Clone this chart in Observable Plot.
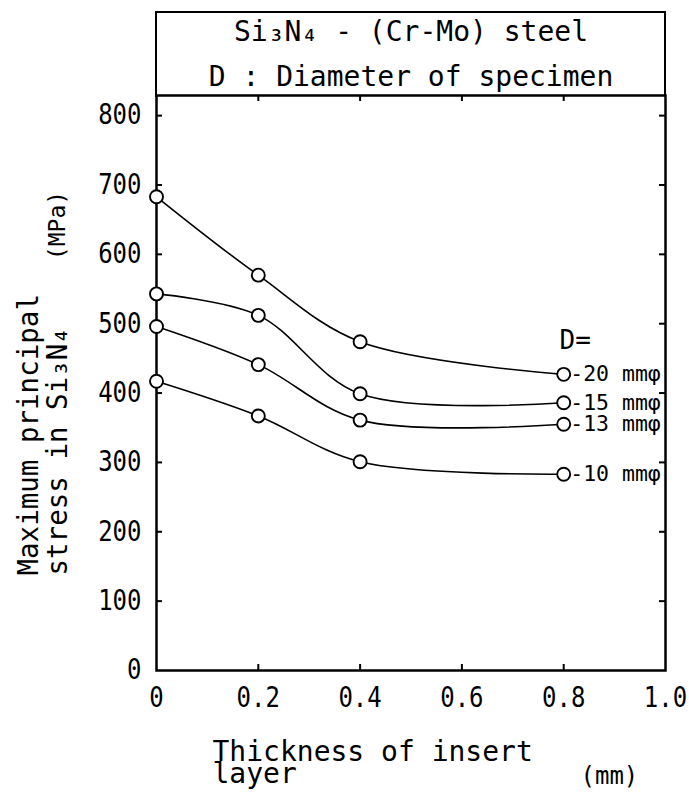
<!DOCTYPE html>
<html>
<head>
<meta charset="utf-8">
<script src="https://cdn.jsdelivr.net/npm/d3@7"></script>
<script src="https://cdn.jsdelivr.net/npm/@observablehq/plot@0.6"></script>
<style>
  html, body { margin: 0; padding: 0; background: white; }
  #wrap { position: relative; width: 689px; height: 798px; overflow: hidden; }
  #titlebox { position: absolute; left: 155px; top: 11px; width: 511px; height: 86px;
    box-sizing: border-box; border: 2.5px solid black; border-bottom: none; }
</style>
</head>
<body>
<div id="wrap"><div id="chart"></div><div id="titlebox"></div></div>
<script>
// ---- data ----
const thickness = [0, 0.2, 0.4, 0.8];           // mm
const diameters = ["20", "15", "13", "10"];     // mm phi
const stress20 = [683, 570, 474, 427];          // MPa
const stress15 = [543, 512, 399, 386];
const stress13 = [496, 441, 361, 355];
const stress10 = [417, 367, 301, 283];
const xTicks = [0, 0.2, 0.4, 0.6, 0.8, 1.0];
const yTicks = [0, 100, 200, 300, 400, 500, 600, 700, 800];
const titleLines = ["Si\u2083N\u2084 - (Cr-Mo) steel", "D : Diameter of specimen"];

const seriesValues = [stress20, stress15, stress13, stress10];
const points = [];
diameters.forEach((d, k) => thickness.forEach((t, i) => points.push({D: d, t, s: seriesValues[k][i]})));
const lastPoints = diameters.map((d, k) => ({D: d, t: thickness[thickness.length - 1], s: seriesValues[k][thickness.length - 1]}));

// ---- layout ----
const W = 689, H = 798, mL = 156, mR = 24, mT = 95, mB = 128;
const pw = W - mL - mR, ph = H - mT - mB, tick = 6;
const font = "'DejaVu Sans Mono', monospace";

const chart = Plot.plot({
  width: W, height: H,
  marginLeft: mL, marginRight: mR, marginTop: mT, marginBottom: mB,
  style: {fontFamily: font, fontSize: "24px", background: "white", color: "black", overflow: "visible"},
  x: {domain: [0, 1], label: null},
  y: {domain: [0, 829], label: null},
  marks: [
    Plot.frame({stroke: "black", strokeWidth: 2.5}),
    // inward ticks on all four sides
    Plot.tickY(yTicks.slice(1), {y: d => d, insetRight: pw - tick, strokeWidth: 2}),
    Plot.tickY(yTicks.slice(1), {y: d => d, insetLeft: pw - tick, strokeWidth: 2}),
    Plot.tickX(xTicks.slice(1, -1), {x: d => d, insetTop: ph - tick, strokeWidth: 2}),
    Plot.tickX(xTicks.slice(1, -1), {x: d => d, insetBottom: ph - tick, strokeWidth: 2}),
    Plot.axisY({ticks: yTicks, tickSize: 0, tickPadding: 15, fontSize: 24, label: null, tickFormat: d => String(d)}),
    Plot.axisX({ticks: xTicks, tickSize: 0, tickPadding: 17, fontSize: 24, label: null,
      tickFormat: d => d === 0 ? "0" : d.toFixed(1)}),
    Plot.line(points, {x: "t", y: "s", z: "D", curve: "catmull-rom", stroke: "black", strokeWidth: 1.6}),
    Plot.dot(points, {x: "t", y: "s", r: 6.5, fill: "white", stroke: "black", strokeWidth: 1.9}),
    Plot.text(lastPoints, {x: "t", y: "s", text: d => "-" + d.D + " mm\u03c6", dx: 6.5,
      textAnchor: "start", lineAnchor: "middle", fontSize: 21.5, ariaLabel: "series-label"}),
    Plot.text(["D="], {frameAnchor: "top-right", dx: -106, dy: 245, textAnchor: "start",
      lineAnchor: "middle", fontSize: 26, ariaLabel: "d-label"}),
    // titles
    Plot.text([titleLines[0]], {frameAnchor: "top", dy: -55, lineAnchor: "bottom", fontSize: 28, ariaLabel: "title"}),
    Plot.text([titleLines[1]], {frameAnchor: "top", dy: -10, lineAnchor: "bottom", fontSize: 28, ariaLabel: "title"}),
    // y axis label
    Plot.text(["Maximum principal"], {frameAnchor: "bottom-left", dx: 37 - mL, dy: -95, rotate: -90,
      textAnchor: "start", lineAnchor: "bottom", fontSize: 27.5, ariaLabel: "ylabel"}),
    Plot.text(["stress in Si\u2083N\u2084"], {frameAnchor: "bottom-left", dx: 66 - mL, dy: -95, rotate: -90,
      textAnchor: "start", lineAnchor: "bottom", fontSize: 27.5, ariaLabel: "ylabel"}),
    Plot.text(["(MPa)"], {frameAnchor: "top-left", dx: 64 - mL, dy: 130, rotate: -90,
      textAnchor: "middle", lineAnchor: "bottom", fontSize: 23, ariaLabel: "yunit"}),
    // x axis label
    Plot.text(["Thickness of insert"], {frameAnchor: "bottom-left", dx: 56, dy: 90,
      textAnchor: "start", lineAnchor: "bottom", fontSize: 28, ariaLabel: "xlabel"}),
    Plot.text(["layer"], {frameAnchor: "bottom-left", dx: 56, dy: 112,
      textAnchor: "start", lineAnchor: "bottom", fontSize: 28, ariaLabel: "xlabel"}),
    Plot.text(["(mm)"], {frameAnchor: "bottom-left", dx: 424, dy: 113,
      textAnchor: "start", lineAnchor: "bottom", fontSize: 24, ariaLabel: "xunit"})
  ]
});

// stretch glyphs vertically to mimic the tall typewriter face of the original
const stretch = {
  "y-axis tick label": 1.15, "x-axis tick label": 1.15, "series-label": 1.35, "d-label": 1.05,
  "title": 1.0, "ylabel": 1.4, "yunit": 1.55, "xlabel": 1.05, "xunit": 1.15
};
for (const [label, s] of Object.entries(stretch)) {
  chart.querySelectorAll(`g[aria-label="${label}"] text`).forEach(t => {
    const tr = t.getAttribute("transform") || "";
    t.setAttribute("transform", `${tr} scale(1,${s})`);
  });
}
document.getElementById("chart").appendChild(chart);
</script>
</body>
</html>
